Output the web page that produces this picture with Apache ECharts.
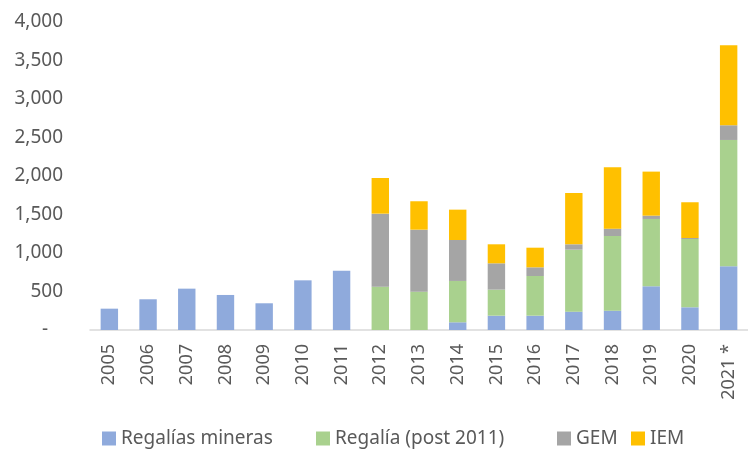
<!DOCTYPE html>
<html>
<head>
<meta charset="utf-8">
<script src="https://cdn.jsdelivr.net/npm/echarts@6/dist/echarts.min.js"></script>
<style>
  html, body { margin: 0; padding: 0; background: #fff; }
  #chart { width: 748px; height: 449px; }
</style>
</head>
<body>
<div id="chart"></div>
<script>
var years = ["2005", "2006", "2007", "2008", "2009", "2010", "2011", "2012", "2013",
  "2014", "2015", "2016", "2017", "2018", "2019", "2020", "2021 *"];
// valores
var regaliasMineras = [277, 399, 537, 455, 347, 645, 771, null, null, 100, 186, 186, 238, 251, 568, 295, 827];
var regaliaPost2011 = [null, null, null, null, null, null, null, 563, 498, 537, 338, 515, 805, 970, 874, 887, 1641];
var gem = [null, null, null, null, null, null, null, 948, 805, 532, 342, 113, 70, 95, 43, 13, 191];
var iem = [null, null, null, null, null, null, null, 463, 369, 394, 247, 255, 667, 797, 572, 464, 1039];

var seriesNames = ["Regalías mineras", "Regalía (post 2011)", "GEM", "IEM"];
var legendLeft = [102, 316, 557, 631];

var textColor = "#595959";
var fontFamily = "Noto Sans";

var myChart = echarts.init(document.getElementById("chart"));

function serie(name, data, color) {
  return {
    name: name,
    type: "bar",
    stack: "total",
    barWidth: "45%",
    data: data,
    itemStyle: { color: color }
  };
}

// una leyenda por serie, como en excel el espaciado no es uniforme
var legends = seriesNames.map(function (n, i) {
  return {
    data: [n],
    top: 429,
    left: legendLeft[i],
    padding: 0,
    itemWidth: 14,
    itemHeight: 14,
    itemGap: 0,
    icon: "rect",
    textStyle: { color: textColor, fontSize: 19, fontFamily: fontFamily }
  };
});

var option = {
  animation: false,
  textStyle: { fontFamily: fontFamily },
  grid: {
    left: 90,
    right: -8,
    top: 22,
    bottom: 119
  },
  legend: legends,
  xAxis: {
    type: "category",
    data: years,
    axisLine: { lineStyle: { color: "#d9d9d9", width: 1.5 } },
    axisTick: { show: false },
    axisLabel: {
      rotate: 90,
      interval: 0,
      margin: 14,
      color: textColor,
      fontSize: 18,
      fontFamily: fontFamily
    }
  },
  yAxis: {
    type: "value",
    min: 0,
    max: 4000,
    interval: 500,
    axisLine: { show: false },
    axisTick: { show: false },
    splitLine: { show: false },
    axisLabel: {
      margin: 27,
      color: textColor,
      fontSize: 19,
      fontFamily: fontFamily,
      formatter: function (v) {
        if (v === 0) return "-   ";
        return v.toLocaleString("en-US");
      }
    }
  },
  series: [
    serie(seriesNames[0], regaliasMineras, "#8faadc"),
    serie(seriesNames[1], regaliaPost2011, "#a9d18e"),
    serie(seriesNames[2], gem, "#a5a5a5"),
    serie(seriesNames[3], iem, "#ffc000")
  ]
};
myChart.setOption(option, true);
</script>
</body>
</html>
